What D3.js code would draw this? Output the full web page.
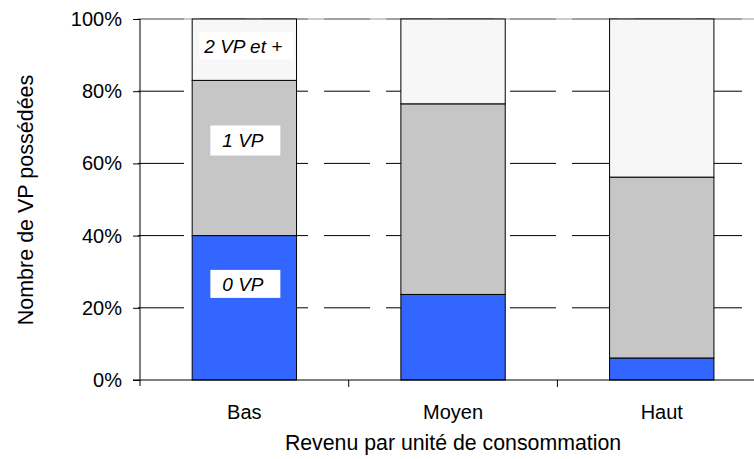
<!DOCTYPE html>
<html><head><meta charset="utf-8">
<script src="https://cdn.jsdelivr.net/npm/d3@7"></script>
<style>body{margin:0;background:#fff}svg{display:block;font-family:"Liberation Sans",Arial,sans-serif}</style>
</head><body><svg id="c" width="754" height="459"></svg>
<script>
const categories = ["Bas", "Moyen", "Haut"];
const seriesNames = ["0 VP", "1 VP", "2 VP et +"];
const zeroVP = [40, 23.7, 6.1];
const oneVP = [43, 52.8, 50.1];
const twoPlusVP = [17, 23.5, 43.8];
const yTicks = [0, 20, 40, 60, 80, 100];
const colors = ["#3366FF", "#C6C6C6", "#F7F7F7"];

const svg = d3.select("#c");
const L = 140, T = 19, B = 380, bandW = 208.7;
const x = d3.scaleBand().domain(categories).range([L, L + bandW * 3]).paddingInner(0.5).paddingOuter(0.25);
const y = d3.scaleLinear().domain([0, 100]).range([B, T]);

// gridlines
const grid = svg.append("g");
yTicks.filter(d => d > 0).forEach(t => {
  if (t === 100) {
    grid.append("line").attr("x1", L).attr("x2", 754).attr("y1", y(t)).attr("y2", y(t))
      .attr("stroke", "#bbb").attr("stroke-width", 1.3);
  }
  grid.append("line").attr("x1", 138).attr("x2", 742).attr("y1", y(t)).attr("y2", y(t))
    .attr("stroke", t === 100 ? "#777" : "#000").attr("stroke-width", 1)
    .attr("stroke-dasharray", "46,16");
});

const rows = categories.map((c, i) => ({cat: c, v: [zeroVP[i], oneVP[i], twoPlusVP[i]]}));
const stack = d3.stack().keys([0, 1, 2]).value((d, k) => d.v[k])(rows);
stack.forEach((s, k) => {
  svg.append("g").selectAll("rect").data(s).join("rect")
    .attr("x", d => x(d.data.cat))
    .attr("width", x.bandwidth())
    .attr("y", d => y(d[1]))
    .attr("height", d => y(d[0]) - y(d[1]))
    .attr("fill", colors[k])
    .attr("stroke", "#000").attr("stroke-width", 1);
});

// axes
svg.append("line").attr("x1", L).attr("x2", L).attr("y1", T).attr("y2", 386).attr("stroke", "#000");
svg.append("line").attr("x1", 133).attr("x2", 754).attr("y1", B).attr("y2", B).attr("stroke", "#000");
categories.forEach((c, i) => {
  const bx = L + bandW * i;
  if (i > 0) svg.append("line").attr("x1", bx).attr("x2", bx).attr("y1", B).attr("y2", 387).attr("stroke", "#000");
});
const yAxis = svg.append("g").attr("transform", `translate(${L},0)`)
  .call(d3.axisLeft(y).tickValues(yTicks).tickFormat(d => d + "%").tickSize(7).tickPadding(11));
yAxis.select(".domain").remove();
yAxis.selectAll("line").attr("stroke", "#000");
yAxis.selectAll("text").attr("font-size", 20).attr("fill", "#000").attr("font-family", "Liberation Sans, Arial, sans-serif");

svg.append("g").selectAll("text").data(categories).join("text")
  .attr("x", d => x(d) + x.bandwidth() / 2).attr("y", 419)
  .attr("text-anchor", "middle").attr("font-size", 20).text(d => d);
svg.append("text").attr("x", 453).attr("y", 450).attr("text-anchor", "middle")
  .attr("font-size", 21.3).text("Revenu par unité de consommation");
svg.append("text").attr("transform", "translate(33,200) rotate(-90)").attr("text-anchor", "middle")
  .attr("font-size", 21.5).text("Nombre de VP possédées");

// series labels in first bar
const cx0 = x(categories[0]) + x.bandwidth() / 2;
const boxes = [
  {x: cx0 - 34, w: 70, top: y(30.5), h: 28},
  {x: cx0 - 34, w: 70, top: y(70.5), h: 30},
  {x: cx0 - 45, w: 94, top: y(96.3), h: 27}
];
seriesNames.forEach((n, k) => {
  const b = boxes[k];
  svg.append("rect").attr("x", b.x).attr("y", b.top).attr("width", b.w).attr("height", b.h).attr("fill", "#fff");
  svg.append("text").attr("x", k === 2 ? b.x + 5 : b.x + 12).attr("y", b.top + b.h / 2 + 7)
    .attr("font-size", 19).attr("font-style", "italic").text(n);
});
</script></body></html>
